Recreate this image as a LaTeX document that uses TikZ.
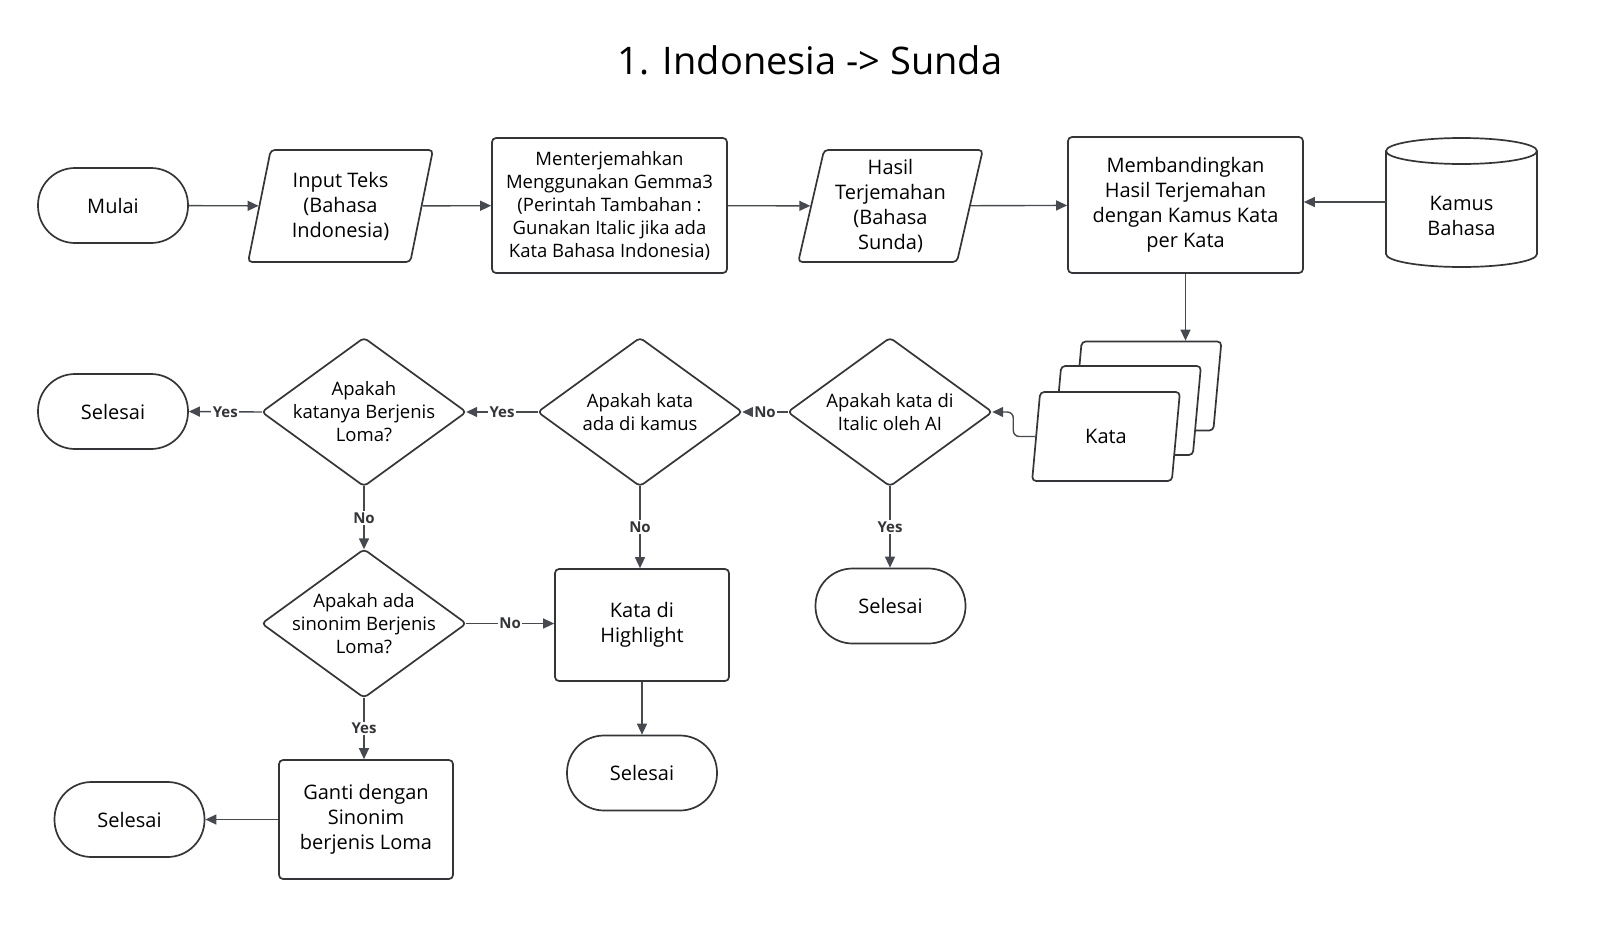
\documentclass[tikz,border=0pt]{standalone}
\usepackage{fontspec}
\setmainfont{Open Sans}
\usetikzlibrary{shapes.geometric,arrows.meta}
\definecolor{shapecol}{RGB}{51,53,57}
\definecolor{linecol}{RGB}{70,74,80}
\newcommand\fsz[2]{\fontsize{#1}{#2}\selectfont}
\tikzset{
  shapeline/.style={draw=shapecol, line width=1.7pt},
  base/.style={shapeline, fill=white, align=center, inner sep=0pt, text=black, font=\fsz{20}{25}},
  term/.style={base, rounded corners=37pt, minimum width=150pt, minimum height=75pt},
  proc/.style={base, rounded corners=4pt},
  io/.style={base, trapezium, trapezium left angle=77, trapezium right angle=103, trapezium stretches=true, minimum width=185pt, minimum height=112pt, rounded corners=4pt},
  card/.style={base, trapezium, trapezium left angle=80, trapezium right angle=100, trapezium stretches=true, minimum width=148pt, minimum height=89pt, rounded corners=4pt},
  dec/.style={align=center, inner sep=0pt, minimum width=204pt, minimum height=148pt, font=\fsz{18.5}{23}},
  arr/.style={draw=linecol, line width=1.4pt, -{Triangle[length=11pt,width=10pt]}},
  lbl/.style={fill=white, font=\bfseries\fsz{15}{18}, text=shapecol, inner sep=1.5pt}
}
\begin{document}
\begin{tikzpicture}[x=1pt,y=-1pt]
\useasboundingbox (0,0) rectangle (1600,937);
\fill[white] (0,0) rectangle (1600,937);

\node[font=\fsz{38}{44}] (title) at (810,60) {1. Indonesia -> Sunda};

% top row
\node[term] (mulai) at (113,205.5) {Mulai};
\node[io] (input) at (340.5,206) {Input Teks\\(Bahasa\\Indonesia)};
\node[proc, minimum width=235pt, minimum height=135pt, font=\fsz{18.5}{23}] (trans) at (609.5,205.5)
  {Menterjemahkan\\Menggunakan Gemma3\\(Perintah Tambahan :\\Gunakan Italic jika ada\\Kata Bahasa Indonesia)};
\node[io] (hasil) at (890.5,206) {Hasil\\Terjemahan\\(Bahasa\\Sunda)};
\node[proc, minimum width=235pt, minimum height=136pt] (banding) at (1185.5,205)
  {Membandingkan\\Hasil Terjemahan\\dengan Kamus Kata\\per Kata};

% cylinder
\node[minimum width=151pt, minimum height=129pt, inner sep=0pt] (kamus) at (1461.5,202.5) {};
\draw[shapeline, fill=white]
  (1386,151) -- (1386,254) .. controls (1386,261.2) and (1419.8,267) .. (1461.5,267)
  .. controls (1503.2,267) and (1537,261.2) .. (1537,254) -- (1537,151);
\draw[shapeline, fill=white] (1461.5,151) ellipse[x radius=75.5, y radius=13];
\node[font=\fsz{20}{25}, align=center] (kamustext) at (1461.5,216) {Kamus\\Bahasa};
\coordinate (kamusL) at (1386,202);

% kata cards
\node[card] (kata3) at (1147.5,386) {\phantom{Kata}};
\node[card] (kata2) at (1127,410.5) {\phantom{Kata}};
\node[card] (kata) at (1106,436.5) {Kata};

% decisions
\node[dec] (italic) at (890,412) {Apakah kata di\\Italic oleh AI};
\node[dec] (kamusq) at (640,412) {Apakah kata\\ada di kamus};
\node[dec] (loma) at (364,412) {Apakah\\katanya Berjenis\\Loma?};
\node[dec] (sinonim) at (364,623.5) {Apakah ada\\sinonim Berjenis\\Loma?};
\foreach \n in {italic,kamusq,loma,sinonim}
  \draw[shapeline, rounded corners=4pt, line join=round]
    (\n.north) -- (\n.east) -- (\n.south) -- (\n.west) -- cycle;

% others
\node[term] (s1) at (113,411.5) {Selesai};
\node[term] (s2) at (890.5,606) {Selesai};
\node[proc, minimum width=174pt, minimum height=112pt] (highlight) at (642,625) {Kata di\\Highlight};
\node[term] (s3) at (642,773) {Selesai};
\node[proc, minimum width=174pt, minimum height=119pt] (ganti) at (366,819.5) {Ganti dengan\\Sinonim\\berjenis Loma};
\node[term] (s4) at (129.5,819.5) {Selesai};

% connectors
\draw[arr] (mulai) -- (input);
\draw[arr] (input) -- (trans);
\draw[arr] (trans) -- (hasil);
\draw[arr] (hasil) -- (banding);
\draw[arr] (kamusL) -- (kamusL -| banding.east);
\draw[arr] (banding.south) -- (banding.south |- kata3.north);
\draw[arr, rounded corners=6pt] (kata.west) -- ++(-22,0) |- (italic.east);
\draw[arr] (italic.west) -- node[lbl]{No} (kamusq.east);
\draw[arr] (italic.south) -- node[lbl]{Yes} (italic.south |- s2.north);
\draw[arr] (kamusq.west) -- node[lbl]{Yes} (loma.east);
\draw[arr] (kamusq.south) -- node[lbl]{No} (kamusq.south |- highlight.north);
\draw[arr] (loma.west) -- node[lbl]{Yes} (s1.east);
\draw[arr] (loma.south) -- node[lbl]{No} (sinonim.north);
\draw[arr] (sinonim.east) -- node[lbl]{No} (sinonim.east -| highlight.west);
\draw[arr] (sinonim.south) -- node[lbl]{Yes} (sinonim.south |- ganti.north);
\draw[arr] (highlight) -- (s3);
\draw[arr] (ganti) -- (s4);
\end{tikzpicture}
\end{document}
